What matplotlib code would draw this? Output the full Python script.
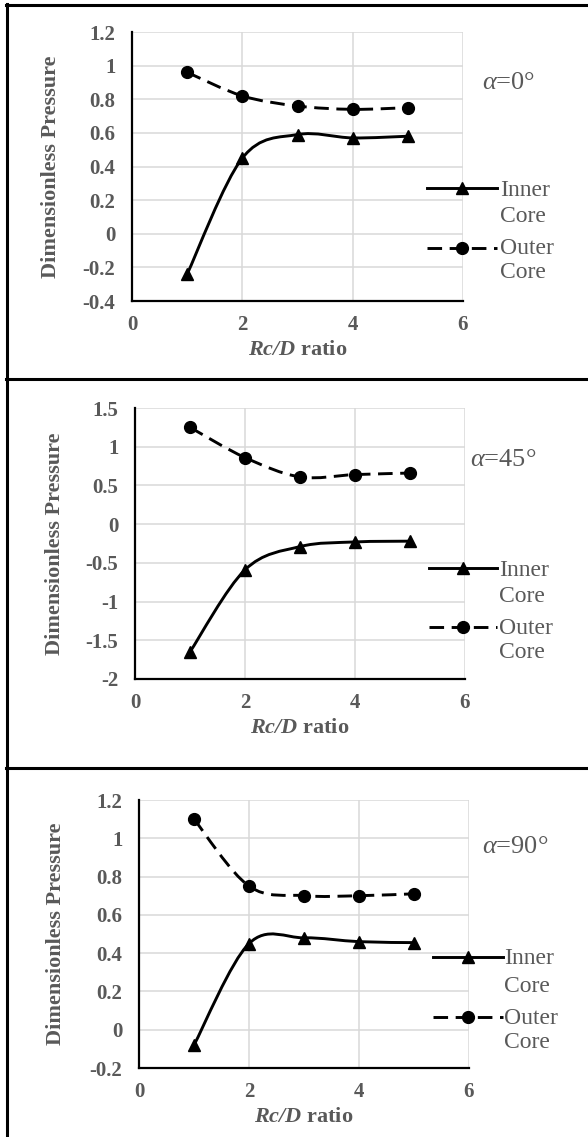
import matplotlib
matplotlib.use('Agg')
import matplotlib.pyplot as plt
from matplotlib.path import Path
from matplotlib.patches import PathPatch
from matplotlib.lines import Line2D

# ---- data ----
rc_d = [1, 2, 3, 4, 5]
inner_0 = [-0.24, 0.45, 0.59, 0.57, 0.58]
outer_0 = [0.96, 0.82, 0.76, 0.74, 0.75]
inner_45 = [-1.65, -0.59, -0.29, -0.23, -0.22]
outer_45 = [1.25, 0.86, 0.61, 0.64, 0.66]
inner_90 = [-0.08, 0.45, 0.48, 0.46, 0.455]
outer_90 = [1.10, 0.75, 0.70, 0.70, 0.71]
angles = ['0', '45', '90']
x_ticks = [0, 2, 4, 6]
y_ticks_0 = [-0.4, -0.2, 0, 0.2, 0.4, 0.6, 0.8, 1, 1.2]
y_ticks_45 = [-2, -1.5, -1, -0.5, 0, 0.5, 1, 1.5]
y_ticks_90 = [-0.2, 0, 0.2, 0.4, 0.6, 0.8, 1, 1.2]

panels = [(inner_0, outer_0, y_ticks_0),
          (inner_45, outer_45, y_ticks_45),
          (inner_90, outer_90, y_ticks_90)]

plt.rcParams['font.family'] = 'Liberation Serif'
plt.rcParams['mathtext.fontset'] = 'custom'
plt.rcParams['mathtext.it'] = 'Liberation Serif:italic'
plt.rcParams['mathtext.bf'] = 'Liberation Serif:italic:bold'
plt.rcParams['mathtext.rm'] = 'Liberation Serif'

W, H = 588, 1137
TXT = '#595959'
DASH = (0, (5, 2.6))


def fx(px):
    return px / W


def fy(py):
    return 1 - py / H


def smooth_path(xs, ys):
    # excel-style smoothed line: cubic bezier through every point
    n = len(xs)
    verts = [(xs[0], ys[0])]
    codes = [Path.MOVETO]
    for i in range(n - 1):
        i0 = max(i - 1, 0)
        i3 = min(i + 2, n - 1)
        c1 = (xs[i] + (xs[i + 1] - xs[i0]) / 6, ys[i] + (ys[i + 1] - ys[i0]) / 6)
        c2 = (xs[i + 1] - (xs[i3] - xs[i]) / 6, ys[i + 1] - (ys[i3] - ys[i]) / 6)
        verts += [c1, c2, (xs[i + 1], ys[i + 1])]
        codes += [Path.CURVE4] * 3
    return Path(verts, codes)


fig = plt.figure(figsize=(W / 100, H / 100), dpi=100)

# panel frame lines
fig.add_artist(Line2D([fx(7), fx(7)], [0, fy(4)], transform=fig.transFigure, color='k', lw=2.2))
for yy in [5, 379, 768]:
    fig.add_artist(Line2D([fx(6), 1], [fy(yy), fy(yy)], transform=fig.transFigure, color='k', lw=2.2))

axes_px = [(132, 32, 463, 301), (135, 408, 465, 679), (139, 800, 469, 1068)]
legend_px = [(427, 497, 188, 248, 500), (429, 497, 568, 627, 499), (433, 503, 957, 1017, 504)]
alpha_px = [(482, 83), (470, 460), (482, 847)]
ylab_px = [51, 55, 56]

for k in range(3):
    inner, outer, yt = panels[k]
    l, t, r, b = axes_px[k]
    ax = fig.add_axes([fx(l), fy(b), (r - l) / W, (b - t) / H])

    ax.add_patch(PathPatch(smooth_path(rc_d, inner), fill=False, color='k', lw=2.1, zorder=3))
    ax.add_patch(PathPatch(smooth_path(rc_d, outer), fill=False, color='k', lw=2.1,
                           linestyle=DASH, zorder=3))
    ax.plot(rc_d, inner, linestyle='none', marker='^', color='k', markersize=8.5, zorder=4)
    ax.plot(rc_d, outer, linestyle='none', marker='o', color='k', markersize=8.5, zorder=4)

    ax.set_xlim(0, 6)
    ax.set_ylim(yt[0], yt[-1])
    ax.set_xticks(x_ticks)
    ax.set_yticks(yt)
    ax.set_yticklabels([f'{v:g}' for v in yt])
    ax.grid(True, color='#d9d9d9', lw=1.1)
    ax.set_axisbelow(True)
    for s in ['top', 'right']:
        ax.spines[s].set_visible(False)
    for s in ['left', 'bottom']:
        ax.spines[s].set_linewidth(1.6)
    ax.tick_params(length=0, labelsize=15, labelcolor=TXT)
    ax.tick_params(axis='y', pad=12)
    ax.tick_params(axis='x', pad=10)
    for lab in ax.get_xticklabels() + ax.get_yticklabels():
        lab.set_fontweight('bold')

    ax.set_xlabel(r'$\mathbf{Rc/D}$ ratio', fontsize=16, color=TXT, fontweight='bold')
    ax.xaxis.label.set_va('center')
    ax.xaxis.set_label_coords(0.5, -(49) / (b - t))
    ax.set_ylabel('Dimensionless Pressure', fontsize=16, color=TXT, fontweight='bold')
    ax.yaxis.label.set_va('center')
    ax.yaxis.set_label_coords((ylab_px[k] - l) / (r - l), 0.5)

    # angle label
    ax_, ay_ = alpha_px[k]
    fig.text(fx(ax_), fy(ay_), r'$\alpha$=' + angles[k] + '°', fontsize=19,
             color=TXT, ha='left', va='center')

    # legend drawn by hand so the marker line sits on the first text line
    x0, x1, yi, yo, xt = legend_px[k]
    xm = (x0 + x1) / 2
    fig.add_artist(Line2D([fx(x0), fx(xm), fx(x1)], [fy(yi)] * 3, transform=fig.transFigure,
                          color='k', lw=2.1, marker='^', markersize=8.5, markevery=[1]))
    fig.add_artist(Line2D([fx(x0), fx(xm), fx(x1)], [fy(yo)] * 3, transform=fig.transFigure,
                          color='k', lw=2.1, linestyle=DASH, marker='o',
                          markersize=8.5, markevery=[1]))
    for txt, yy in [('Inner', yi + 2), ('Core', yi + 29), ('Outer', yo + 1), ('Core', yo + 25)]:
        fig.text(fx(xt), fy(yy), txt, fontsize=17, color=TXT, ha='left', va='center')

fig.savefig('out.png', dpi=100)
